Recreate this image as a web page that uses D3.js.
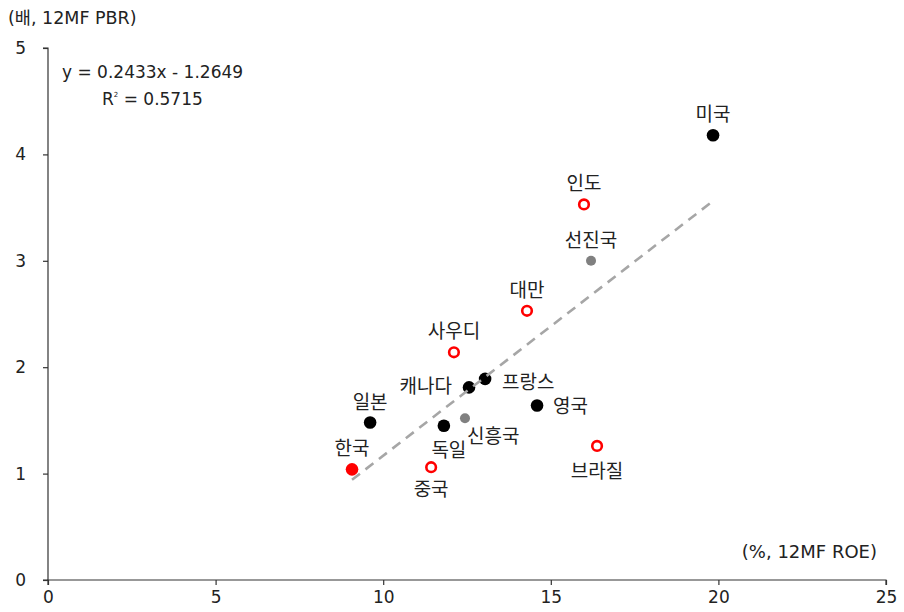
<!DOCTYPE html>
<html><head><meta charset="utf-8">
<script src="https://cdn.jsdelivr.net/npm/d3@7"></script>
<style>
body{margin:0;background:#fff;}
text{font-family:"DejaVu Sans","Noto Sans CJK KR",sans-serif;fill:#222;}
</style></head>
<body><svg id="c" width="904" height="612"></svg>
<script>
const names   = ["미국","인도","선진국","대만","사우디","캐나다","프랑스","영국","신흥국","독일","일본","한국","중국","브라질"];
const roe     = [19.84,15.99,16.20,14.29,12.11,12.56,13.04,14.59,12.44,11.81,9.61,9.07,11.43,16.38];
const pbr     = [4.18,3.53,3.00,2.53,2.14,1.81,1.89,1.64,1.52,1.45,1.48,1.04,1.06,1.26];
const kinds   = ["dev","em","agg","em","em","dev","dev","dev","agg","dev","dev","kr","em","em"];
const labelAt = ["top","top","top","top","top","left","right","right","below","below","top","top","below","below"];
const xTicks  = [0,5,10,15,20,25];
const yTicks  = [0,1,2,3,4,5];
const slope = 0.2433, intercept = -1.2649, r2 = 0.5715;

const svg = d3.select("#c");
const x = d3.scaleLinear().domain([0,25]).range([48,886]);
const y = d3.scaleLinear().domain([0,5]).range([580,48]);

const xa = svg.append("g").attr("transform","translate(0,580)")
  .call(d3.axisBottom(x).tickValues(xTicks).tickFormat(d3.format("d")).tickSize(5).tickPadding(6));
const ya = svg.append("g").attr("transform","translate(48,0)")
  .call(d3.axisLeft(y).tickValues(yTicks).tickFormat(d3.format("d")).tickSize(5).tickPadding(17));
[xa,ya].forEach(a=>{
  a.selectAll("path,line").attr("stroke","#333").attr("stroke-width",1.2);
  a.selectAll("text").style("font-family","'DejaVu Sans',sans-serif").style("font-size","17px").attr("fill","#222");
});
ya.select(".domain").attr("d","M-5,48H0V580H-5");
xa.select(".domain").attr("d","M48,5V0H886V5");

svg.append("text").attr("x",8).attr("y",24).style("font-size","17.5px").text("(배, 12MF PBR)");
svg.append("text").attr("x",877).attr("y",558).attr("text-anchor","end").style("font-size","18px").text("(%, 12MF ROE)");
svg.append("text").attr("x",62).attr("y",78).style("font-size","17px").text(`y = ${slope}x - ${Math.abs(intercept)}`);
const rt = svg.append("text").attr("x",102).attr("y",105).style("font-size","17px");
rt.append("tspan").text("R");
rt.append("tspan").attr("dy",-8).style("font-size","7px").text("2");
rt.append("tspan").attr("dy",8).text(` = ${r2}`);

const data = names.map((n,i)=>({n,x:roe[i],y:pbr[i],k:kinds[i],l:labelAt[i]}));
const style = {
  dev:{r:6.3,fill:"#000",stroke:"none",sw:0},
  em:{r:4.8,fill:"#fff",stroke:"#ff0000",sw:2.6},
  agg:{r:5,fill:"#808080",stroke:"none",sw:0},
  kr:{r:6.3,fill:"#ff0000",stroke:"none",sw:0}
};
svg.selectAll("circle.pt").data(data).join("circle").attr("class","pt")
  .attr("cx",d=>x(d.x)).attr("cy",d=>y(d.y)).attr("r",d=>style[d.k].r)
  .attr("fill",d=>style[d.k].fill).attr("stroke",d=>style[d.k].stroke).attr("stroke-width",d=>style[d.k].sw);

const xmin = d3.min(roe), xmax = d3.max(roe);
svg.append("line").attr("x1",x(xmin)).attr("y1",y(slope*xmin+intercept))
  .attr("x2",x(xmax)).attr("y2",y(slope*xmax+intercept))
  .attr("stroke","#a6a6a6").attr("stroke-width",2.6).attr("stroke-dasharray","10,7");

const off = {top:[0,-14,"middle"],below:[0,28,"middle"],left:[-17,6,"end"],right:[16,10,"start"]};
const custom = {"신흥국":[2,25,"start"],"독일":[5,31,"middle"],"중국":[0,29,"middle"],"브라질":[0,32,"middle"],"프랑스":[17,10,"start"],"영국":[16,7,"start"]};
svg.selectAll("text.lab").data(data).join("text").attr("class","lab")
  .each(function(d){
    const o = custom[d.n] || off[d.l];
    d3.select(this).attr("x",x(d.x)+o[0]).attr("y",y(d.y)+o[1]).attr("text-anchor",o[2]);
  })
  .style("font-family","'Noto Sans CJK KR',sans-serif").style("font-size","19px").text(d=>d.n);
</script></body></html>
